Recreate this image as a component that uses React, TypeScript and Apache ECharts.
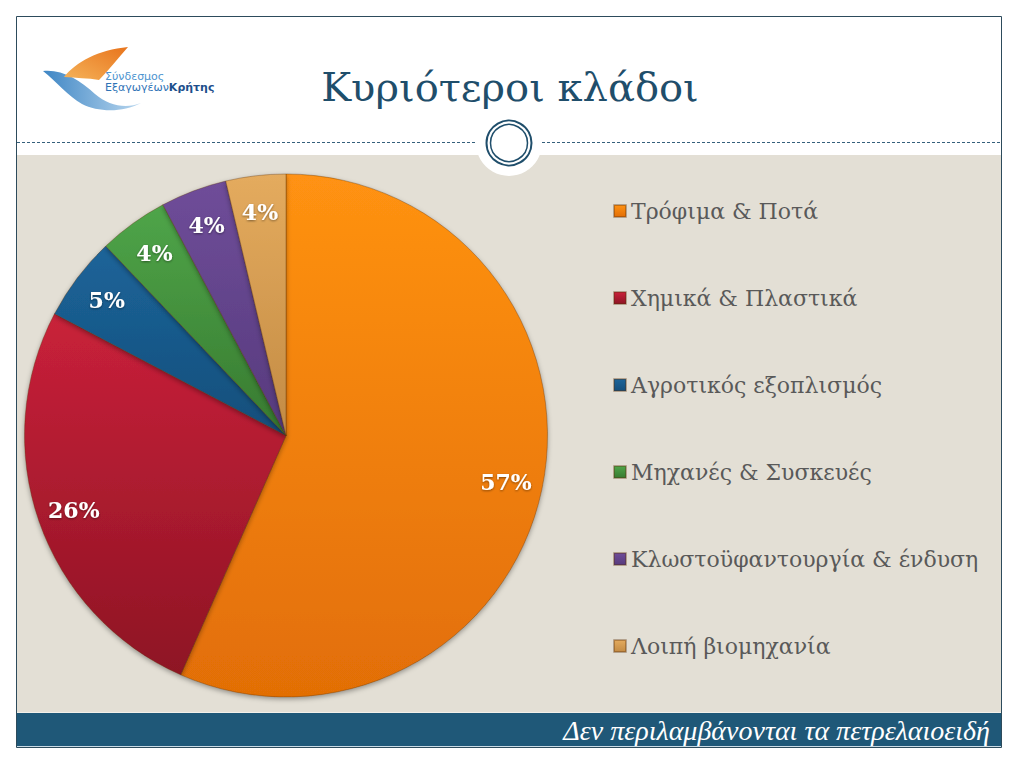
import React, { useEffect, useRef } from "react";
import * as echarts from "echarts";

const categories = [
  "Τρόφιμα & Ποτά",
  "Χημικά & Πλαστικά",
  "Αγροτικός εξοπλισμός",
  "Μηχανές & Συσκευές",
  "Κλωστοϋφαντουργία & ένδυση",
  "Λοιπή βιομηχανία",
];
const values = [56.6, 26.1, 5.2, 4.3, 4.1, 3.7];
const topColors = ["#ff9212", "#c9213a", "#1c6499", "#4fa549", "#6f4d99", "#e4ab5e"];
const bottomColors = ["#e26e06", "#8e1424", "#144e7b", "#377a30", "#563a7d", "#c38b44"];
const titleText = "Κυριότεροι κλάδοι";
const footerText = "Δεν περιλαμβάνονται τα πετρελαιοειδή";
const logoLine1 = "Σύνδεσμος";
const logoLine2a = "Εξαγωγέων";
const logoLine2b = "Κρήτης";

echarts.graphic.registerShape(
  "logoLeaf",
  echarts.graphic.extendPath(
    "M64 77 C76 62 98 50 128 47 C119 57 109 70 99 80 C88 78 76 78 64 77 Z",
    {}
  )
);
echarts.graphic.registerShape(
  "logoSwoosh",
  echarts.graphic.extendPath(
    "M43 71 C62 69 80 80 95 94 C109 106 126 109 141 103 C122 113 98 112 82 104 C68 96 57 82 43 71 Z",
    {}
  )
);

export default function App() {
  const ref = useRef<HTMLDivElement>(null);
  useEffect(() => {
    if (!ref.current) return;
    const chart = echarts.init(ref.current, undefined, { renderer: "svg" });
    const navy = "#1f4e6b";
    const pieData = categories.map((name, i) => ({
      name,
      value: values[i],
      itemStyle: {
        color: new echarts.graphic.LinearGradient(0, 0, 0, 1, [
          { offset: 0, color: topColors[i] },
          { offset: 1, color: bottomColors[i] },
        ]),
      },
    }));
    const labelData = categories.map((name, i) => ({
      name: "lbl" + i,
      value: values[i],
    }));
    chart.setOption({
      animation: false,
      backgroundColor: "#ffffff",
      graphic: [
        {
          type: "rect",
          z: 0,
          shape: { x: 16.5, y: 16.5, width: 985, height: 731 },
          style: { fill: "#ffffff", stroke: "#2d4b5c", lineWidth: 1 },
        },
        {
          type: "rect",
          z: 1,
          shape: { x: 17, y: 155, width: 984, height: 557 },
          style: { fill: "#e3dfd5" },
        },
        {
          type: "rect",
          z: 1,
          shape: { x: 17, y: 712, width: 984, height: 1 },
          style: { fill: "#f2f0ea" },
        },
        {
          type: "rect",
          z: 1,
          shape: { x: 17, y: 713, width: 984, height: 33 },
          style: { fill: "#1f5878" },
        },
        {
          type: "rect",
          z: 1,
          shape: { x: 17, y: 746, width: 984, height: 1 },
          style: { fill: "#c9dbe6" },
        },
        {
          type: "line",
          z: 1,
          shape: { x1: 17, y1: 142.5, x2: 1001, y2: 142.5 },
          style: { stroke: "#35607c", lineWidth: 1, lineDash: [3, 2] },
        },
        {
          type: "circle",
          z: 2,
          shape: { cx: 509, cy: 143, r: 33 },
          style: { fill: "#ffffff" },
        },
        {
          type: "circle",
          z: 3,
          shape: { cx: 509, cy: 143, r: 22.5 },
          style: { fill: "#ffffff", stroke: navy, lineWidth: 2 },
        },
        {
          type: "circle",
          z: 3,
          shape: { cx: 509, cy: 143, r: 18.5 },
          style: { fill: "none", stroke: navy, lineWidth: 1.5 },
        },
        {
          type: "text",
          z: 3,
          x: 510,
          y: 87,
          style: {
            text: titleText,
            fill: navy,
            font: "40px 'DejaVu Serif'",
            textAlign: "center",
            textVerticalAlign: "middle",
          },
        },
        {
          type: "text",
          z: 3,
          x: 990,
          y: 730,
          style: {
            text: footerText,
            fill: "#ffffff",
            font: "italic 28px 'Liberation Serif'",
            textAlign: "right",
            textVerticalAlign: "middle",
          },
        },
        {
          type: "logoSwoosh",
          z: 3,
          x: 0,
          y: 0,
          style: {
            fill: new echarts.graphic.LinearGradient(0, 0, 1, 0, [
              { offset: 0, color: "#3f86c4" },
              { offset: 1, color: "#b9d7ef" },
            ]),
          },
        },
        {
          type: "logoLeaf",
          z: 3,
          x: 0,
          y: 0,
          style: {
            fill: new echarts.graphic.LinearGradient(0, 1, 1, 0, [
              { offset: 0, color: "#f5b35a" },
              { offset: 1, color: "#e8741c" },
            ]),
          },
        },
        {
          type: "text",
          z: 3,
          x: 105,
          y: 76,
          style: {
            text: logoLine1,
            fill: "#4d94cf",
            font: "11px 'DejaVu Sans'",
            textVerticalAlign: "middle",
          },
        },
        {
          type: "text",
          z: 3,
          x: 105,
          y: 87,
          style: {
            text: "{a|" + logoLine2a + "}{b|" + logoLine2b + "}",
            textVerticalAlign: "middle",
            rich: {
              a: { fill: "#2f73b6", font: "11px 'DejaVu Sans'" },
              b: { fill: "#1d4f8c", font: "bold 11px 'DejaVu Sans'" },
            },
          },
        },
      ],
      legend: {
        orient: "vertical",
        left: 608,
        top: 191,
        itemWidth: 12,
        itemHeight: 12,
        itemGap: 57,
        icon: "rect",
        selectedMode: false,
        data: categories,
        textStyle: {
          color: "#595959",
          fontFamily: "DejaVu Serif",
          fontSize: 22,
          lineHeight: 30,
        },
      },
      series: [
        {
          type: "pie",
          center: [286, 435.5],
          radius: [0, 261.5],
          startAngle: 90,
          clockwise: true,
          z: 2,
          label: { show: false },
          labelLine: { show: false },
          emphasis: { disabled: true },
          itemStyle: {
            borderColor: "rgba(90,45,10,0.35)",
            borderWidth: 1,
            shadowBlur: 5,
            shadowColor: "rgba(0,0,0,0.35)",
            shadowOffsetY: 2,
          },
          data: pieData,
        },
        {
          type: "pie",
          center: [286, 435.5],
          radius: [182, 261.5],
          startAngle: 90,
          clockwise: true,
          z: 4,
          silent: true,
          avoidLabelOverlap: false,
          itemStyle: { color: "rgba(0,0,0,0)", borderWidth: 0 },
          emphasis: { disabled: true },
          labelLine: { show: false },
          label: {
            show: true,
            position: "inside",
            formatter: (p: any) => Math.round(p.percent) + "%",
            color: "#ffffff",
            fontFamily: "DejaVu Serif",
            fontWeight: "bold",
            fontSize: 22,
            textShadowColor: "rgba(0,0,0,0.45)",
            textShadowBlur: 2,
            textShadowOffsetY: 1,
          },
          data: labelData,
        },
      ],
    });
    return () => chart.dispose();
  }, []);
  return (
    <div
      ref={ref}
      style={{ position: "fixed", left: 0, top: 0, width: 1016, height: 763 }}
    />
  );
}
